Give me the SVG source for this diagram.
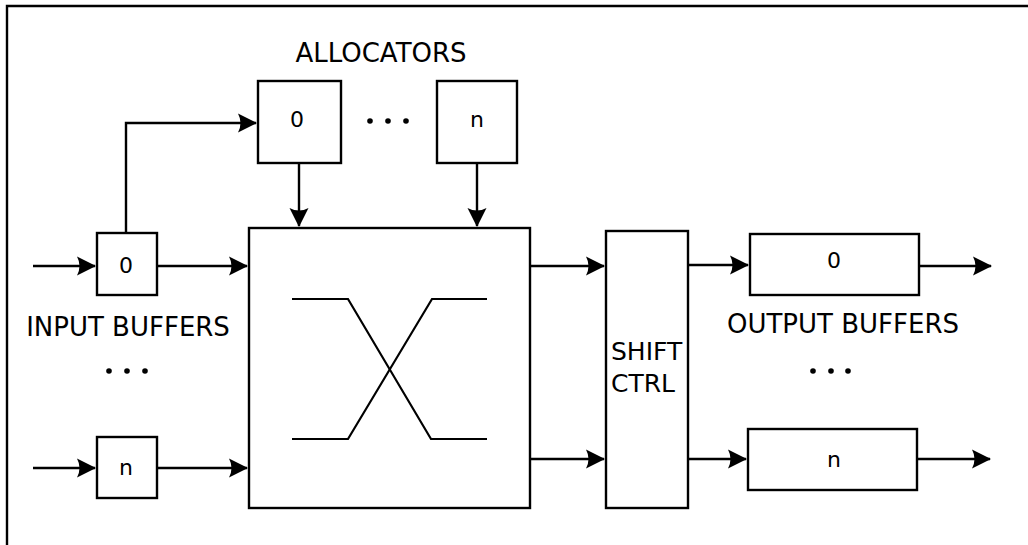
<svg xmlns="http://www.w3.org/2000/svg" width="1028" height="545" viewBox="0 0 1028 545">
<style>
.box{fill:#fff;stroke:#000;stroke-width:2.4}
.ln{fill:none;stroke:#000;stroke-width:2.2}
.arr{fill:none;stroke:#000;stroke-width:2.4;marker-end:url(#ah)}
.t{font-family:"DejaVu Sans",sans-serif;font-size:26px;fill:#000}
.sc{font-family:"DejaVu Sans",sans-serif;font-size:25px;fill:#000}
.s{font-family:"DejaVu Sans",sans-serif;font-size:22px;fill:#000;text-anchor:middle}
.c{text-anchor:middle}
</style>
<defs>
<marker id="ah" markerUnits="userSpaceOnUse" markerWidth="24" markerHeight="24" viewBox="-21 -12 24 24" refX="0" refY="0" orient="auto">
<path d="M1,0 L-18,-9.5 Q-13,0 -18,9.5 Z" fill="#000"/>
</marker>
</defs>
<rect width="1028" height="545" fill="#fff"/>
<path d="M7,545 V6 H1028" fill="none" stroke="#000" stroke-width="2.4"/>
<text class="t c" x="381" y="62">ALLOCATORS</text>
<text class="t c" x="128" y="336">INPUT BUFFERS</text>
<text class="t c" x="843" y="333">OUTPUT BUFFERS</text>
<g id="dots">
<circle cx="370" cy="121" r="2.8"/><circle cx="388" cy="121" r="2.8"/><circle cx="406" cy="121" r="2.8"/>
<circle cx="109" cy="371" r="2.8"/><circle cx="127" cy="371" r="2.8"/><circle cx="145" cy="371" r="2.8"/>
<circle cx="813" cy="371" r="2.8"/><circle cx="831" cy="371" r="2.8"/><circle cx="848" cy="371" r="2.8"/>
</g>
<g id="connectors">
<path class="arr" d="M126,233 V123 H256"/>
<path class="arr" d="M299,163 V226"/>
<path class="arr" d="M477,163 V226"/>
<path class="arr" d="M33,266 H95"/>
<path class="arr" d="M157,266 H247"/>
<path class="arr" d="M33,468 H95"/>
<path class="arr" d="M157,468 H247"/>
<path class="arr" d="M530,266 H604"/>
<path class="arr" d="M530,459 H604"/>
<path class="arr" d="M688,265 H748"/>
<path class="arr" d="M688,459 H746"/>
<path class="arr" d="M919,266 H991"/>
<path class="arr" d="M917,459 H990"/>
</g>
<g id="alloc0"><rect class="box" x="258" y="81" width="83" height="82"/><text class="s" x="297" y="127">0</text></g>
<g id="allocn"><rect class="box" x="437" y="81" width="80" height="82"/><text class="s" x="477" y="127">n</text></g>
<g id="in0"><rect class="box" x="97" y="233" width="60" height="62"/><text class="s" x="126" y="273">0</text></g>
<g id="inn"><rect class="box" x="97" y="437" width="60" height="61"/><text class="s" x="126" y="475">n</text></g>
<g id="switch"><rect class="box" x="249" y="228" width="281" height="280"/>
<path class="ln" d="M292,299 H348 L431,439 H487"/>
<path class="ln" d="M292,439 H348 L432,299 H487"/></g>
<g id="shift"><rect class="box" x="606" y="231" width="82" height="277"/>
<text class="sc" x="611" y="360">SHIFT</text><text class="sc" x="611" y="392">CTRL</text></g>
<g id="out0"><rect class="box" x="750" y="234" width="169" height="61"/><text class="s" x="834" y="268">0</text></g>
<g id="outn"><rect class="box" x="748" y="429" width="169" height="61"/><text class="s" x="834" y="467">n</text></g>
</svg>
